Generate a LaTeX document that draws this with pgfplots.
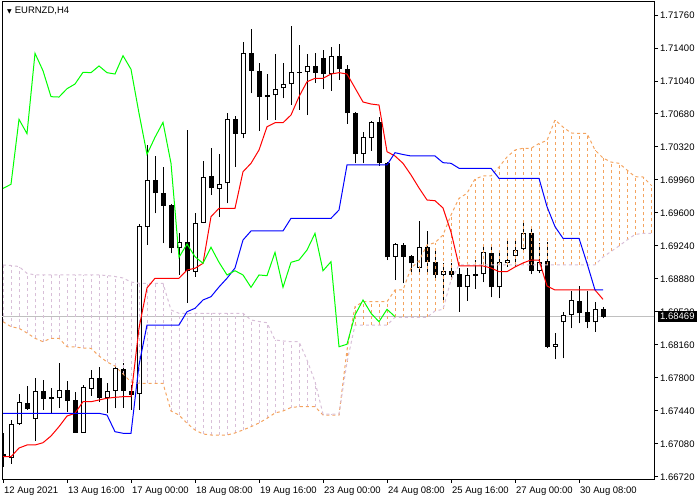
\documentclass[border=0pt]{standalone}
\usepackage{fontspec}
\setmainfont{Liberation Sans}
\newfontfamily\dejavu{DejaVu Sans}
\usepackage{pgfplots}
\usepackage{pgfplotstable}
\pgfplotsset{compat=1.18}
\definecolor{sandy}{RGB}{244,164,96}
\definecolor{thistl}{RGB}{216,191,216}
\definecolor{ichlime}{RGB}{0,255,0}
\definecolor{silverline}{RGB}{192,192,192}

% candles: i open high low close
\pgfplotstableread{
i o h l c
1 1.66931 1.67342 1.66862 1.67295
2 1.67295 1.67625 1.67290 1.67535
4 1.67353 1.67803 1.67116 1.67655
7 1.67579 1.67964 1.67476 1.67666
10 1.67203 1.67724 1.67200 1.67699
11 1.67683 1.67887 1.67604 1.67797
13 1.67585 1.67749 1.67415 1.67655
14 1.67658 1.67960 1.67469 1.67906
17 1.67622 1.69477 1.67451 1.69458
18 1.69451 1.70342 1.69251 1.69960
22 1.69215 1.69378 1.68924 1.69287
24 1.68960 1.69597 1.68905 1.69494
25 1.69494 1.70167 1.69488 1.69989
27 1.69862 1.70240 1.69560 1.69913
28 1.69924 1.70688 1.69706 1.70622
30 1.70465 1.71469 1.70415 1.71342
34 1.70884 1.71335 1.70615 1.70956
35 1.70960 1.71233 1.70851 1.71007
36 1.71004 1.71640 1.70778 1.71135
38 1.71135 1.71335 1.70669 1.71204
41 1.71116 1.71408 1.70934 1.71316
45 1.70244 1.70487 1.70142 1.70426
46 1.70415 1.70607 1.70280 1.70589
49 1.69123 1.69276 1.68869 1.69262
52 1.69003 1.69513 1.68942 1.69226
55 1.68924 1.69058 1.68621 1.68970
58 1.68789 1.69003 1.68643 1.68924
60 1.68931 1.69258 1.68844 1.69171
62 1.68789 1.69160 1.68669 1.69062
63 1.69051 1.69295 1.69014 1.69087
64 1.69134 1.69295 1.69014 1.69196
65 1.69207 1.69488 1.69178 1.69378
67 1.68970 1.69269 1.68942 1.69069
69 1.68141 1.68288 1.68004 1.68168
70 1.68408 1.68523 1.68015 1.68487
71 1.68487 1.68752 1.68342 1.68651
74 1.68408 1.68632 1.68305 1.68549
}\whitecandles

\pgfplotstableread{
i o h l c
0 1.66976 1.67200 1.66829 1.66933
3 1.67524 1.67713 1.67451 1.67462
5 1.67655 1.67778 1.67451 1.67574
6 1.67589 1.67691 1.67418 1.67571
8 1.67666 1.67767 1.67432 1.67552
9 1.67560 1.67647 1.67200 1.67203
12 1.67797 1.67917 1.67541 1.67585
15 1.67895 1.67967 1.67473 1.67658
16 1.67658 1.67724 1.67451 1.67615
19 1.69960 1.70222 1.69597 1.69815
20 1.69815 1.70105 1.69269 1.69680
21 1.69687 1.69698 1.69160 1.69215
23 1.69287 1.70505 1.68621 1.68967
26 1.70004 1.70306 1.69796 1.69869
29 1.70622 1.70658 1.70105 1.70465
31 1.71342 1.71604 1.70906 1.71152
32 1.71152 1.71233 1.70498 1.70869
33 1.70884 1.71113 1.70615 1.70865
37 1.71141 1.71433 1.70724 1.71131
39 1.71204 1.71342 1.71021 1.71131
40 1.71288 1.71378 1.70949 1.71116
42 1.71316 1.71440 1.71051 1.71168
43 1.71168 1.71215 1.70571 1.70688
44 1.70688 1.70702 1.70142 1.70240
47 1.70589 1.70644 1.70113 1.70142
48 1.70142 1.70156 1.69087 1.69117
50 1.69251 1.69276 1.68833 1.69123
51 1.69131 1.69142 1.68942 1.69051
53 1.69226 1.69407 1.68942 1.69062
54 1.69062 1.69215 1.68869 1.68924
56 1.68970 1.69058 1.68869 1.68924
57 1.68931 1.69003 1.68523 1.68789
59 1.68935 1.69087 1.68771 1.68916
61 1.69160 1.69258 1.68680 1.68789
66 1.69378 1.69433 1.68931 1.68970
68 1.69076 1.69280 1.68124 1.68141
72 1.68643 1.68807 1.68397 1.68506
73 1.68517 1.68752 1.68342 1.68414
75 1.68549 1.68578 1.68451 1.68469
}\blackcandles

% tenkan-sen (t) and kijun-sen (k)
\pgfplotstableread{
i t k
0 1.66941 1.67415
1 1.66941 1.67415
2 1.67036 1.67415
3 1.67069 1.67415
4 1.67069 1.67415
5 1.67094 1.67415
6 1.67167 1.67415
7 1.67269 1.67415
8 1.67385 1.67415
9 1.67415 1.67415
10 1.67541 1.67415
11 1.67541 1.67415
12 1.67560 1.67415
13 1.67579 1.67396
14 1.67589 1.67214
15 1.67596 1.67197
16 1.67596 1.67197
17 1.68345 1.67942
18 1.68782 1.68378
19 1.68888 1.68378
20 1.68888 1.68378
21 1.68888 1.68378
22 1.68888 1.68378
23 1.68978 1.68523
24 1.68997 1.68560
25 1.69051 1.68651
26 1.69560 1.68687
27 1.69651 1.68793
28 1.69651 1.68888
29 1.69651 1.69000
30 1.70050 1.69305
31 1.70142 1.69404
32 1.70287 1.69404
33 1.70541 1.69404
34 1.70585 1.69404
35 1.70585 1.69404
36 1.70669 1.69542
37 1.70869 1.69542
38 1.71032 1.69542
39 1.71069 1.69542
40 1.71069 1.69542
41 1.71116 1.69542
42 1.71131 1.69633
43 1.71116 1.70124
44 1.70964 1.70124
45 1.70811 1.70124
46 1.70789 1.70124
47 1.70778 1.70124
48 1.70269 1.70124
49 1.70222 1.70258
50 1.70142 1.70238
51 1.70015 1.70222
52 1.69873 1.70222
53 1.69742 1.70222
54 1.69734 1.70222
55 1.69655 1.70149
56 1.69393 1.70142
57 1.69022 1.70088
58 1.69022 1.70088
59 1.69022 1.70088
60 1.69022 1.70088
61 1.69000 1.70088
62 1.68960 1.69978
63 1.68960 1.69978
64 1.69011 1.69978
65 1.69055 1.69978
66 1.69087 1.69978
67 1.69087 1.69978
68 1.68804 1.69669
69 1.68760 1.69451
70 1.68760 1.69324
71 1.68760 1.69324
72 1.68760 1.69324
73 1.68760 1.69051
74 1.68760 1.68760
75 1.68658 1.68760
}\tenkijun

% chikou span
\pgfplotstableread{
i v
0 1.69869
1 1.69913
2 1.70622
3 1.70465
4 1.71342
5 1.71152
6 1.70869
7 1.70865
8 1.70956
9 1.71007
10 1.71135
11 1.71131
12 1.71204
13 1.71131
14 1.71116
15 1.71316
16 1.71168
17 1.70688
18 1.70240
19 1.70426
20 1.70589
21 1.70142
22 1.69117
23 1.69262
24 1.69123
25 1.69051
26 1.69226
27 1.69062
28 1.68924
29 1.68970
30 1.68924
31 1.68789
32 1.68924
33 1.68916
34 1.69171
35 1.68789
36 1.69062
37 1.69087
38 1.69196
39 1.69378
40 1.68970
41 1.69069
42 1.68141
43 1.68168
44 1.68487
45 1.68651
46 1.68506
47 1.68414
48 1.68549
49 1.68469
}\chikou

% senkou span A and B
\pgfplotstableread{
i A B
0 1.68414 1.69033
1 1.68360 1.69027
2 1.68342 1.69016
3 1.68291 1.68942
4 1.68233 1.68924
5 1.68196 1.68924
6 1.68233 1.68924
7 1.68233 1.68924
8 1.68141 1.68924
9 1.68138 1.68924
10 1.68127 1.68924
11 1.68124 1.68924
12 1.68040 1.68924
13 1.67975 1.68918
14 1.67931 1.68907
15 1.67844 1.68891
16 1.67756 1.68847
17 1.67742 1.68833
18 1.67742 1.68833
19 1.67742 1.68833
20 1.67742 1.68833
21 1.67440 1.68542
22 1.67396 1.68506
23 1.67306 1.68506
24 1.67233 1.68506
25 1.67189 1.68506
26 1.67178 1.68506
27 1.67178 1.68506
28 1.67178 1.68506
29 1.67200 1.68506
30 1.67233 1.68506
31 1.67269 1.68433
32 1.67309 1.68416
33 1.67360 1.68403
34 1.67418 1.68215
35 1.67440 1.68204
36 1.67478 1.68196
37 1.67487 1.68196
38 1.67487 1.67996
39 1.67487 1.67760
40 1.67396 1.67407
41 1.67396 1.67407
42 1.67396 1.67407
43 1.68105 1.67975
44 1.68578 1.68378
45 1.68632 1.68378
46 1.68632 1.68378
47 1.68632 1.68378
48 1.68632 1.68378
49 1.68760 1.68462
50 1.68760 1.68462
51 1.69000 1.68462
52 1.69076 1.68462
53 1.69251 1.68462
54 1.69276 1.68531
55 1.69360 1.68549
56 1.69578 1.68869
57 1.69760 1.69033
58 1.69815 1.69033
59 1.69971 1.69033
60 1.70004 1.69033
61 1.70004 1.69033
62 1.70102 1.69033
63 1.70211 1.69033
64 1.70287 1.69033
65 1.70306 1.69033
66 1.70306 1.69033
67 1.70358 1.69033
68 1.70391 1.69033
69 1.70615 1.69033
70 1.70538 1.69033
71 1.70473 1.69033
72 1.70469 1.69033
73 1.70469 1.69033
74 1.70287 1.69033
75 1.70200 1.69120
76 1.70156 1.69180
77 1.70142 1.69240
78 1.70069 1.69305
79 1.69996 1.69365
80 1.69993 1.69378
81 1.69905 1.69378
}\cloud

\pgfplotsset{
  bars/.style={draw=none, mark=none, forget plot,
    error bars/.cd, y dir=plus, y explicit, error mark=none},
}

\begin{document}
\begin{tikzpicture}
\path[use as bounding box] (-2pt,-21pt) rectangle (698pt,479pt);
\begin{axis}[
  at={(0pt,0pt)}, anchor=south west,
  scale only axis, width=652pt, height=477pt,
  xmin=-0.125, xmax=81.375, ymin=1.66698, ymax=1.71902,
  axis line style={line width=1pt},
  xtick={0,8,16,24,32,40,48,56,64,72},
  xticklabels={12 Aug 2021,13 Aug 16:00,17 Aug 00:00,18 Aug 08:00,19 Aug 16:00,23 Aug 00:00,24 Aug 08:00,25 Aug 16:00,27 Aug 00:00,30 Aug 08:00},
  ytick={1.66720,1.67080,1.67440,1.67800,1.68160,1.68520,1.68880,1.69240,1.69600,1.69960,1.70320,1.70680,1.71040,1.71400,1.71760},
  xtick pos=left, ytick pos=right, yticklabel pos=right,
  tick align=outside, major tick length=4pt,
  tick style={black, line width=1pt},
  scaled y ticks=false,
  tick label style={font=\fontsize{9.5}{11}\selectfont},
  xticklabel style={anchor=north west, inner xsep=1pt},
  yticklabel style={anchor=west, inner xsep=2pt,
    /pgf/number format/fixed, /pgf/number format/fixed zerofill,
    /pgf/number format/precision=5, /pgf/number format/assume math mode=true},
  extra y ticks={1.68469},
  extra y tick style={grid=major, major grid style={silverline, line width=1pt},
    tick style={draw=none},
    yticklabel style={fill=black, text=white, inner xsep=2pt, inner ysep=2pt}},
]
% wicks
\addplot[bars, error bar style={draw=black, line width=1pt}]
  table[x=i, y=l, y error plus expr=\thisrow{h}-\thisrow{l}] {\whitecandles};
\addplot[bars, error bar style={draw=black, line width=1pt}]
  table[x=i, y=l, y error plus expr=\thisrow{h}-\thisrow{l}] {\blackcandles};
% bodies
\addplot[bars, error bar style={draw=black, line width=5pt}]
  table[x=i, y=c, y error plus expr=\thisrow{o}-\thisrow{c}] {\blackcandles};
\addplot[bars, error bar style={draw=black, line width=5pt}]
  table[x=i, y=o, y error plus expr=\thisrow{c}-\thisrow{o}] {\whitecandles};
\addplot[bars, error bar style={draw=white, line width=3pt}]
  table[x=i, y expr=\thisrow{o}+0.0001, y error plus expr=\thisrow{c}-\thisrow{o}-0.0002] {\whitecandles};
% cloud hatching
\addplot[restrict x to domain=0:42, bars,
  error bar style={draw=thistl, line width=1pt, dash pattern=on 3pt off 3pt}]
  table[x=i, y=A, y error plus expr=\thisrow{B}-\thisrow{A}] {\cloud};
\addplot[restrict x to domain=43:81, bars,
  error bar style={draw=sandy, line width=1pt, dash pattern=on 3pt off 3pt}]
  table[x=i, y=B, y error plus expr=\thisrow{A}-\thisrow{B}] {\cloud};
\addplot[sandy, line width=1pt, dash pattern=on 3pt off 3pt, mark=none] table[x=i, y=A] {\cloud};
\addplot[thistl, line width=1pt, dash pattern=on 3pt off 3pt, mark=none] table[x=i, y=B] {\cloud};
% lines
\addplot[red, line width=1pt, mark=none] table[x=i, y=t] {\tenkijun};
\addplot[blue, line width=1pt, mark=none] table[x=i, y=k] {\tenkijun};
\addplot[ichlime, line width=1pt, mark=none] table[x=i, y=v] {\chikou};
\node[anchor=north west, inner sep=0pt, font=\fontsize{9.5}{11}\selectfont]
  at ([xshift=5pt, yshift=-5pt]rel axis cs:0,1) {{\dejavu\fontsize{6}{6}\selectfont ▼}\hspace{3pt}EURNZD,H4};
\end{axis}
\end{tikzpicture}
\end{document}
